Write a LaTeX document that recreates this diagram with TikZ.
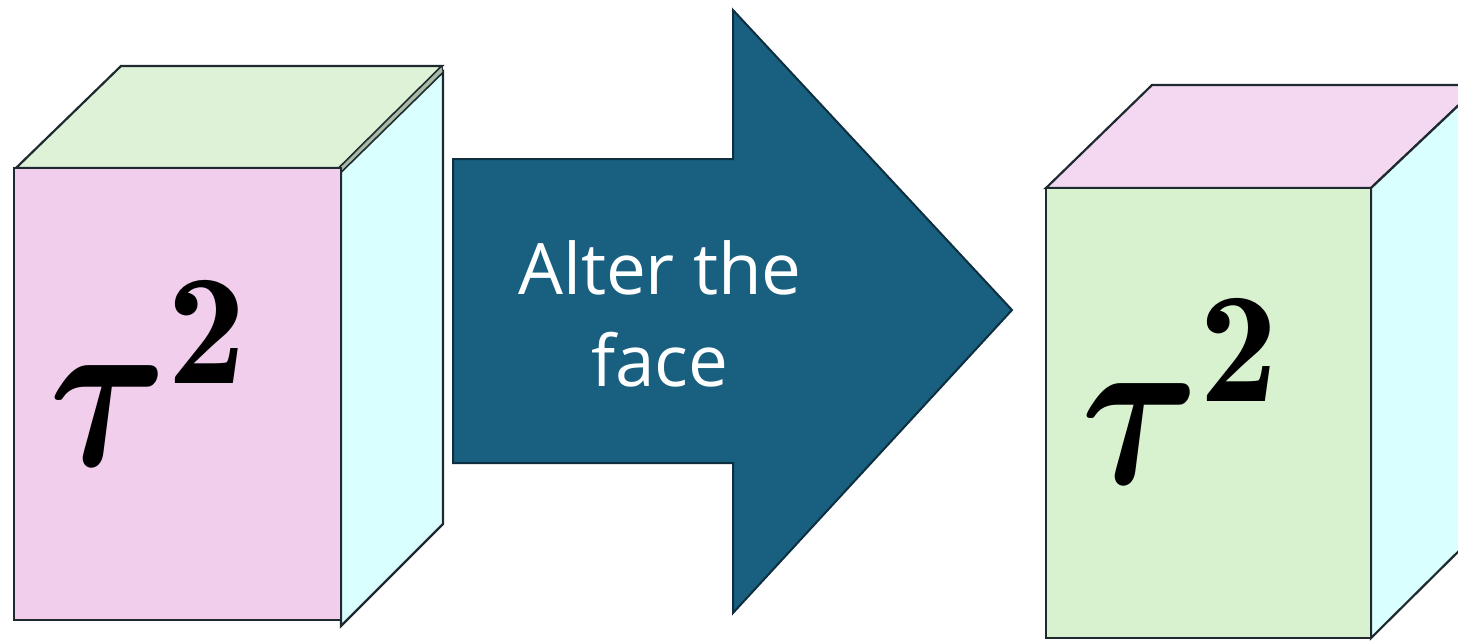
\documentclass[tikz,border=0pt]{standalone}
\usepackage{amsmath}
\usepackage{graphicx}
\usepackage{fontspec}
\newfontfamily\labelfont{Open Sans}
\definecolor{pinkA}{HTML}{F1CEEC}
\definecolor{greenA}{HTML}{DEF2D8}
\definecolor{cyanA}{HTML}{D9FFFF}
\definecolor{pinkB}{HTML}{F4D7F0}
\definecolor{greenB}{HTML}{D8F2D0}
\definecolor{cyanB}{HTML}{DAFFFF}
\definecolor{arrowfill}{HTML}{185F80}
\definecolor{arrowedge}{HTML}{0D2F40}
\definecolor{edge}{HTML}{1F2A30}
\definecolor{strip}{HTML}{A9BBA4}
\newcommand{\tausq}{$\scalebox{0.8}[1]{$\boldsymbol{\tau}$}^{\mathbf{2}}$}
\tikzset{
  face/.style={draw=edge, line width=2.2pt, line join=miter},
  bigarrow/.style={draw=arrowedge, fill=arrowfill, line width=2pt, line join=miter},
  arrowtext/.style={text=white, font=\labelfont\fontsize{71}{92}\selectfont, align=center},
  mathtext/.style={text=black, scale=22.5, inner sep=0pt}
}
\begin{document}
\begin{tikzpicture}[x=1pt,y=-1pt]
\useasboundingbox (0,0) rectangle (1458,641);
% left box
\draw[face, fill=greenA] (16,168) -- (121,66) -- (442,66) -- (339,168) -- cycle;
\draw[face, fill=cyanA] (341,172) -- (443,72) -- (443,524) -- (341,626) -- cycle;
\draw[draw=edge, fill=strip, line width=1pt] (339,168) -- (442,66) -- (443,72) -- (341,172) -- cycle;
\draw[face, fill=pinkA] (14,168) rectangle (341,620);
\node[mathtext, anchor=base west] (tauA) at (45,465) {\tausq};
% arrow
\draw[bigarrow] (453,159) -- (733,159) -- (733,10) -- (1012,310) -- (733,613) -- (733,463) -- (453,463) -- cycle;
\node[arrowtext] (label) at (660,314) {Alter the\\face};
% right box
\begin{scope}
\clip (1000,0) rectangle (1458,641);
\draw[face, fill=pinkB] (1046,188) -- (1152,85) -- (1480,85) -- (1371,188) -- cycle;
\draw[face, fill=cyanB] (1371,188) -- (1480,85) -- (1480,530) -- (1371,638) -- cycle;
\draw[face, fill=greenB] (1046,188) rectangle (1371,638);
\end{scope}
\node[mathtext, anchor=base west] (tauB) at (1077,483) {\tausq};
\end{tikzpicture}
\end{document}
